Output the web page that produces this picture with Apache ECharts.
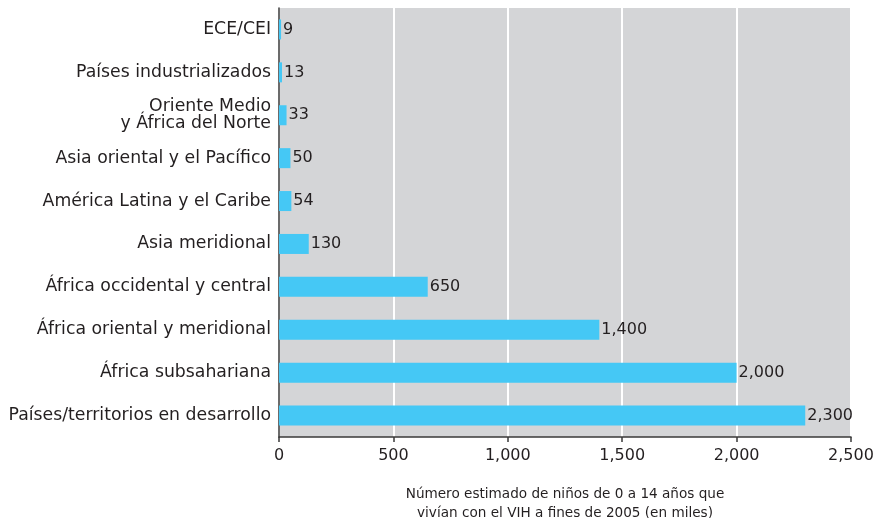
<!DOCTYPE html>
<html><head><meta charset="utf-8">
<script src="https://cdn.jsdelivr.net/npm/echarts@6/dist/echarts.min.js"></script>
<style>html,body{margin:0;padding:0;background:#fff}#c{width:875px;height:518px}</style>
</head><body><div id="c"></div>
<script>
const categories = ["ECE/CEI","Países industrializados","Oriente Medio\ny África del Norte","Asia oriental y el Pacífico","América Latina y el Caribe","Asia meridional","África occidental y central","África oriental y meridional","África subsahariana","Países/territorios en desarrollo"];
const values = [9,13,33,50,54,130,650,1400,2000,2300];
const xTicks = [0,500,1000,1500,2000,2500];
const axisTitle = "Número estimado de niños de 0 a 14 años que\nvivían con el VIH a fines de 2005 (en miles)";
const FONT = "DejaVu Sans";
const TXT = "#231f20";
const chart = echarts.init(document.getElementById('c'));
chart.setOption({
  animation:false,
  grid:{left:279,right:24,top:8,bottom:81,containLabel:false,outerBoundsMode:'none',backgroundColor:'#d4d5d7',show:true,borderWidth:0},
  xAxis:{type:'value',min:xTicks[0],max:xTicks[xTicks.length-1],interval:500,
    axisLine:{show:true,lineStyle:{color:'#3a3a3a',width:1.5}},
    axisTick:{show:true,length:5,lineStyle:{color:'#3a3a3a',width:1.5}},
    splitLine:{show:true,lineStyle:{color:'#ffffff',width:2}},
    axisLabel:{color:TXT,fontSize:16,fontFamily:FONT,margin:11,formatter:v=>v.toLocaleString('en-US')},
    name:axisTitle,nameLocation:'middle',nameGap:48,
    nameTextStyle:{color:TXT,fontSize:13.6,fontFamily:FONT,lineHeight:19,align:'center'}
  },
  yAxis:{type:'category',data:categories,inverse:true,
    axisLine:{show:true,lineStyle:{color:'#3a3a3a',width:1.5}},
    axisTick:{show:false},
    axisLabel:{color:TXT,fontSize:17.3,fontFamily:FONT,margin:8,lineHeight:17,align:'right'}
  },
  series:[{type:'bar',data:values,barWidth:20,
    itemStyle:{color:'#45c8f5'},
    label:{show:true,position:'right',distance:2,color:TXT,fontSize:16,fontFamily:FONT,formatter:p=>p.value.toLocaleString('en-US')}
  }]
});
</script></body></html>
